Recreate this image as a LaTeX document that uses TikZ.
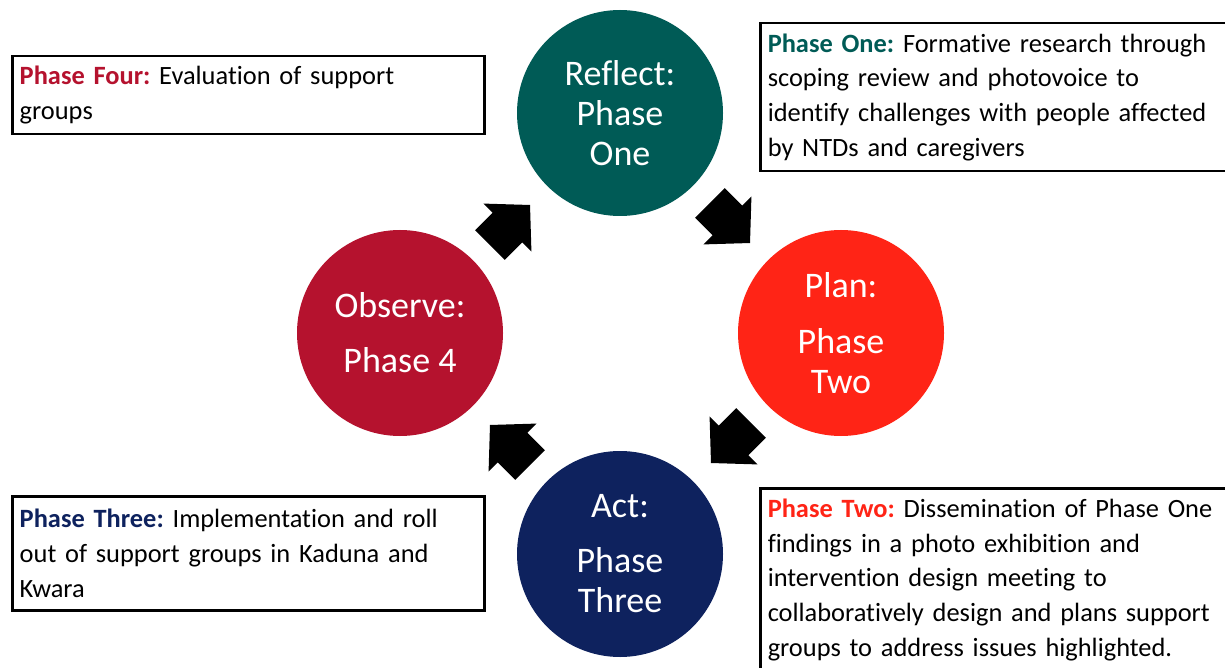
\documentclass[tikz,border=0pt]{standalone}
\usepackage{fontspec}
\setmainfont{Carlito}[RawFeature={-liga}]
\definecolor{cteal}{RGB}{0,91,86}
\definecolor{cred}{RGB}{255,36,22}
\definecolor{ccrimson}{RGB}{181,18,46}
\definecolor{cnavy}{RGB}{14,34,94}
\frenchspacing
\begin{document}
\begin{tikzpicture}[x=1pt,y=-1pt,
  phase/.style={circle, minimum size=206pt, inner sep=0pt, text=white, align=center,
    font=\fontsize{36}{40}\selectfont},
  infobox/.style={draw=black, line width=2.5pt, anchor=north west, align=left,
    inner xsep=7.5pt, inner ysep=0pt, font=\fontsize{26.4}{34.7}\selectfont},
  blockarrow/.pic={\fill[black] (-28.3,-21) -- (-3.7,-21) -- (-3.7,-34) -- (28.3,0)
    -- (-3.7,34) -- (-3.7,21) -- (-28.3,21) -- cycle;}
]
\clip (0,0) rectangle (1225,668);
\fill[white] (0,0) rectangle (1225,668);

% circles
\node[phase, fill=cteal] (reflect) at (620,113) {Reflect:\\Phase\\One};
\node[phase, fill=cred] (plan) at (841,333) {Plan:\\[16pt]Phase\\Two};
\node[phase, fill=ccrimson] (observe) at (400,333) {Observe:\\[15pt]Phase 4};
\node[phase, fill=cnavy] (act) at (620,554) {Act:\\[15pt]Phase\\Three};

% block arrows
\pic[rotate=45] at (510,225) {blockarrow};
\pic[rotate=-45] at (730,223) {blockarrow};
\pic[rotate=-135] at (731,443) {blockarrow};
\pic[rotate=135] at (510,445) {blockarrow};

% text boxes
\node[infobox, minimum width=472pt, minimum height=78pt, text width=457pt] (b4) at (11,55)
  {\textcolor{ccrimson}{\textbf{Phase Four:}} Evaluation of support\\groups};
\node[infobox, minimum width=541pt, minimum height=148pt, text width=526pt] (b1) at (759,22)
  {\textcolor{cteal}{\textbf{Phase One:}} Formative research through\\scoping review and photovoice to\\identify challenges with people affected\\by NTDs and caregivers};
\node[infobox, minimum width=472pt, minimum height=114pt, text width=457pt] (b3) at (11,495)
  {\textcolor{cnavy}{\textbf{Phase Three:}} Implementation and roll\\out of support groups in Kaduna and\\Kwara};
\node[infobox, minimum width=541pt, minimum height=183pt, text width=526pt] (b2) at (759,487)
  {\textcolor{cred}{\textbf{Phase Two:}} Dissemination of Phase One\\findings in a photo exhibition and\\intervention design meeting to\\collaboratively design and plans support\\groups to address issues highlighted.};
\end{tikzpicture}
\end{document}
